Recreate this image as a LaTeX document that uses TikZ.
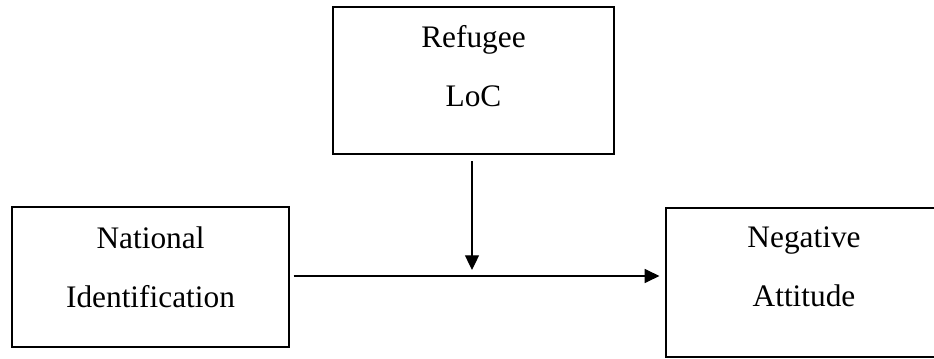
\documentclass[tikz,border=0pt]{standalone}
\usepackage{fontspec}
\setmainfont{Liberation Serif}
\usepackage{tikz}
\usetikzlibrary{arrows.meta,positioning,calc}

\begin{document}
\begin{tikzpicture}[
    x=0.75pt, y=-0.75pt,
    box/.style={draw, line width=0.9pt, align=center, inner sep=0pt,
      font=\fontsize{23.5}{44.25}\selectfont},
    arr/.style={-{Triangle[length=11pt, width=10.5pt]}, line width=0.9pt}
]
\useasboundingbox (0,0) rectangle (934,359);

\node[box, minimum width=281*0.75pt, minimum height=147*0.75pt, text depth=22pt] (loc) at (473.5,80.5) {Refugee\\LoC};
\node[box, minimum width=277*0.75pt, minimum height=140*0.75pt, text depth=15.25pt] (natid) at (150.5,277) {National\\Identification};
\node[box, minimum width=276*0.75pt, minimum height=149*0.75pt, text depth=23.15pt] (negatt) at (804,282.5) {Negative\\Attitude};
\coordinate (mod) at (472,270);

\draw[arr, shorten <=3pt, shorten >=4.5pt] (natid.east |- 0,276) -- (negatt.west |- 0,276);
\draw[arr, shorten <=5pt] (loc.south -| mod) -- (mod);
\end{tikzpicture}
\end{document}
